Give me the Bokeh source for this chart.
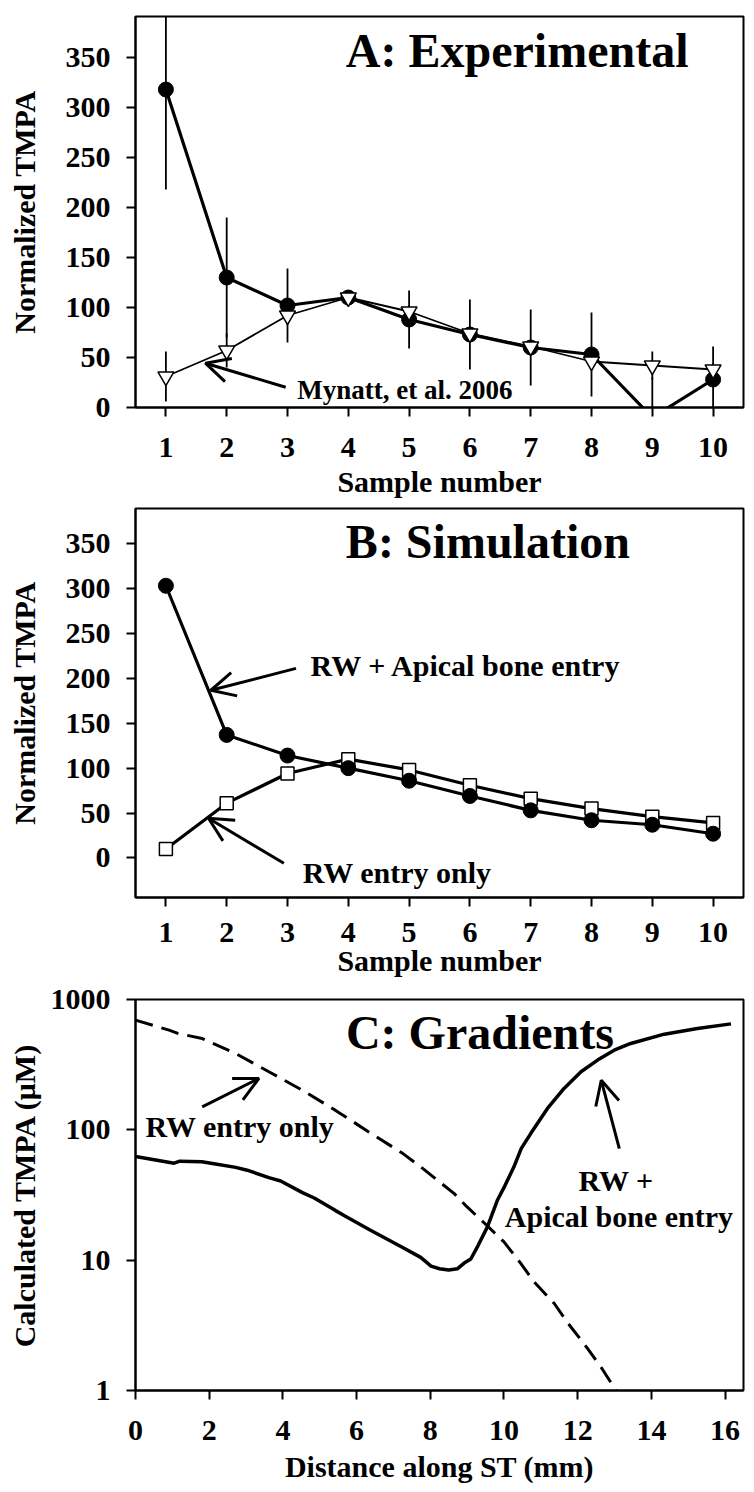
from bokeh.plotting import figure
from bokeh.models import Range1d, FixedTicker, Label, Arrow, OpenHead, PrintfTickFormatter
from bokeh.layouts import column
from bokeh.embed import file_html
from bokeh.resources import INLINE

# ---------------- data ----------------
samples = [1, 2, 3, 4, 5, 6, 7, 8, 9, 10]

# Panel A: experimental
exp_measured = [318, 130, 102, 110, 88, 73, 60, 53, -10, 28]
exp_measured_err = [100, 60, 37, 5, 29, 35, 38, 42, 40, 33]
exp_mynatt = [31, 57, 92, 110, 96, 74, 61, 46, 42, 38]
exp_mynatt_err = [25, 17, 8, 4, 6, 6, 6, 6, 14, 6]

# Panel B: simulation
sim_rw_apical = [303, 137, 114, 100, 86, 69, 53, 42, 37, 27]
sim_rw_only = [10, 61, 94, 110, 98, 81, 66, 55, 46, 39]

# Panel C: gradients (log scale)
dist_rw_only = [0, 0.91, 1.15, 1.81, 2.72, 3.62, 4.53, 5.43, 6.34, 7.25, 7.74, 8.15,
                8.65, 9.0, 9.56, 10.0, 10.46, 10.82, 11.37, 11.73, 12.27, 12.64, 13.04]
conc_rw_only = [695, 582, 549, 502, 385, 279, 201, 141, 96, 66, 52, 42,
                32.4, 25.6, 18.2, 13.8, 9.4, 6.8, 4.63, 3.3, 2.1, 1.5, 1.0]
dist_rw_apical = [0, 1.05, 1.2, 1.8, 2.13, 2.72, 3.03, 3.62, 3.94, 4.53, 4.85, 5.43,
                  5.66, 6.34, 7.25, 7.74, 8.02, 8.25, 8.5, 8.74, 8.92, 9.10, 9.3,
                  9.55, 9.82, 10.02, 10.27, 10.47, 10.73, 11.18, 11.63, 12.09, 12.54,
                  12.99, 13.44, 14.35, 15.25, 16.16]
conc_rw_apical = [62.5, 55.5, 57.5, 57, 55, 51.5, 49, 43, 40.5, 33, 30, 24,
                  22, 17.2, 12.5, 10.5, 9.0, 8.6, 8.4, 8.6, 9.5, 10.2, 13,
                  18, 28.8, 37, 52, 72, 94, 146, 208, 279, 343,
                  408, 460, 542, 600, 650]

x_ticks_ab = samples
y_ticks_ab = [0, 50, 100, 150, 200, 250, 300, 350]
x_ticks_c = [0, 2, 4, 6, 8, 10, 12, 14, 16]
y_ticks_c = [1, 10, 100, 1000]

FONT = "Liberation Serif"


def style(p, xticks, yticks, xl_std, xa_std, yl_std, ya_std):
    p.outline_line_color = "black"
    p.outline_line_width = 2
    p.outline_line_alpha = 1
    p.grid.visible = False
    p.background_fill_color = "white"
    p.border_fill_color = "white"
    p.xaxis.ticker = FixedTicker(ticks=xticks)
    p.yaxis.ticker = FixedTicker(ticks=yticks)
    for ax in p.axis:
        ax.axis_line_width = 2
        ax.axis_line_color = "black"
        ax.major_tick_line_width = 2
        ax.major_tick_line_color = "black"
        ax.major_tick_in = 0
        ax.major_tick_out = 9
        ax.minor_tick_line_color = None
        ax.major_label_text_font = FONT
        ax.major_label_text_font_style = "bold"
        ax.major_label_text_font_size = "30px"
        ax.major_label_text_color = "black"
        ax.axis_label_text_font = FONT
        ax.axis_label_text_font_style = "bold"
        ax.axis_label_text_font_size = "30px"
        ax.axis_label_text_color = "black"
    p.xaxis.major_label_standoff = xl_std
    p.xaxis.axis_label_standoff = xa_std
    p.yaxis.major_label_standoff = yl_std
    p.yaxis.axis_label_standoff = ya_std


def label(p, x, y, text, size="30px", align="left"):
    p.add_layout(Label(x=x, y=y, text=text, text_font=FONT, text_font_style="bold",
                       text_font_size=size, text_color="black",
                       text_align=align, text_baseline="alphabetic"))


def arrow(p, xs, ys, xe, ye):
    p.add_layout(Arrow(end=OpenHead(size=24, line_width=3, line_color="black"),
                       x_start=xs, y_start=ys, x_end=xe, y_end=ye,
                       line_width=3, line_color="black"))


# ---------------- Panel A ----------------
pa = figure(width=754, height=501, x_range=Range1d(0.5, 10.5), y_range=Range1d(0, 391),
            output_backend="svg", toolbar_location=None,
            min_border_left=135, min_border_right=11, min_border_top=16, min_border_bottom=94,
            x_axis_label="Sample number", y_axis_label="Normalized TMPA")
style(pa, x_ticks_ab, y_ticks_ab, 21, 5, 16, 22)

pa.segment(x0=samples, y0=[v - e for v, e in zip(exp_measured, exp_measured_err)],
           x1=samples, y1=[v + e for v, e in zip(exp_measured, exp_measured_err)],
           line_color="black", line_width=1.8)
pa.segment(x0=samples, y0=[v - e for v, e in zip(exp_mynatt, exp_mynatt_err)],
           x1=samples, y1=[v + e for v, e in zip(exp_mynatt, exp_mynatt_err)],
           line_color="black", line_width=1.8)
pa.line(samples, exp_measured, line_color="black", line_width=3.2)
pa.scatter(samples, exp_measured, marker="circle", size=15, fill_color="black", line_color="black")
pa.line(samples, exp_mynatt, line_color="black", line_width=1.8)
pa.scatter(samples, exp_mynatt, marker="inverted_triangle", size=16, fill_color="white",
           line_color="black", line_width=1.5)

label(pa, 3.96, 357, "A: Experimental", size="48px")
label(pa, 3.16, 18, "Mynatt, et al. 2006", size="27px")
arrow(pa, 2.97, 20.3, 1.65, 44.3)

# ---------------- Panel B ----------------
pb = figure(width=754, height=479, x_range=Range1d(0.5, 10.5), y_range=Range1d(-44, 389),
            output_backend="svg", toolbar_location=None,
            min_border_left=135, min_border_right=11, min_border_top=7, min_border_bottom=83,
            x_axis_label="Sample number", y_axis_label="Normalized TMPA")
style(pb, x_ticks_ab, y_ticks_ab, 16, -1, 16, 22)

pb.line(samples, sim_rw_only, line_color="black", line_width=3.2)
pb.scatter(samples, sim_rw_only, marker="square", size=13, fill_color="white",
           line_color="black", line_width=1.5)
pb.line(samples, sim_rw_apical, line_color="black", line_width=3.2)
pb.scatter(samples, sim_rw_apical, marker="circle", size=15, fill_color="black", line_color="black")

label(pb, 3.96, 352, "B: Simulation", size="48px")
label(pb, 3.38, 214.4, "RW + Apical bone entry")
arrow(pb, 3.14, 211, 1.74, 186.7)
label(pb, 3.25, -16.5, "RW entry only")
arrow(pb, 2.94, -5.9, 1.70, 44.2)

# ---------------- Panel C ----------------
pc = figure(width=754, height=506, x_range=Range1d(0, 16.5), y_range=Range1d(1, 1000),
            y_axis_type="log", output_backend="svg", toolbar_location=None,
            min_border_left=135, min_border_right=11, min_border_top=19, min_border_bottom=96,
            x_axis_label="Distance along ST (mm)", y_axis_label="Calculated TMPA (\u03bcM)")
style(pc, x_ticks_c, y_ticks_c, 21, 7, 16, 7)
pc.yaxis.formatter = PrintfTickFormatter(format="%d")

pc.line(dist_rw_only, conc_rw_only, line_color="black", line_width=3, line_dash="18 9")
pc.line(dist_rw_apical, conc_rw_apical, line_color="black", line_width=3.5)

label(pc, 5.71, 560, "C: Gradients", size="48px")
label(pc, 0.27, 107, "RW entry only")
arrow(pc, 1.81, 150, 3.35, 248)
label(pc, 13.04, 41.1, "RW +", align="center")
label(pc, 13.12, 21.5, "Apical bone entry", align="center")
arrow(pc, 13.13, 71.8, 12.64, 240)

layout = column(pa, pb, pc, spacing=0)
open("out.html", "w").write(file_html(layout, INLINE))
